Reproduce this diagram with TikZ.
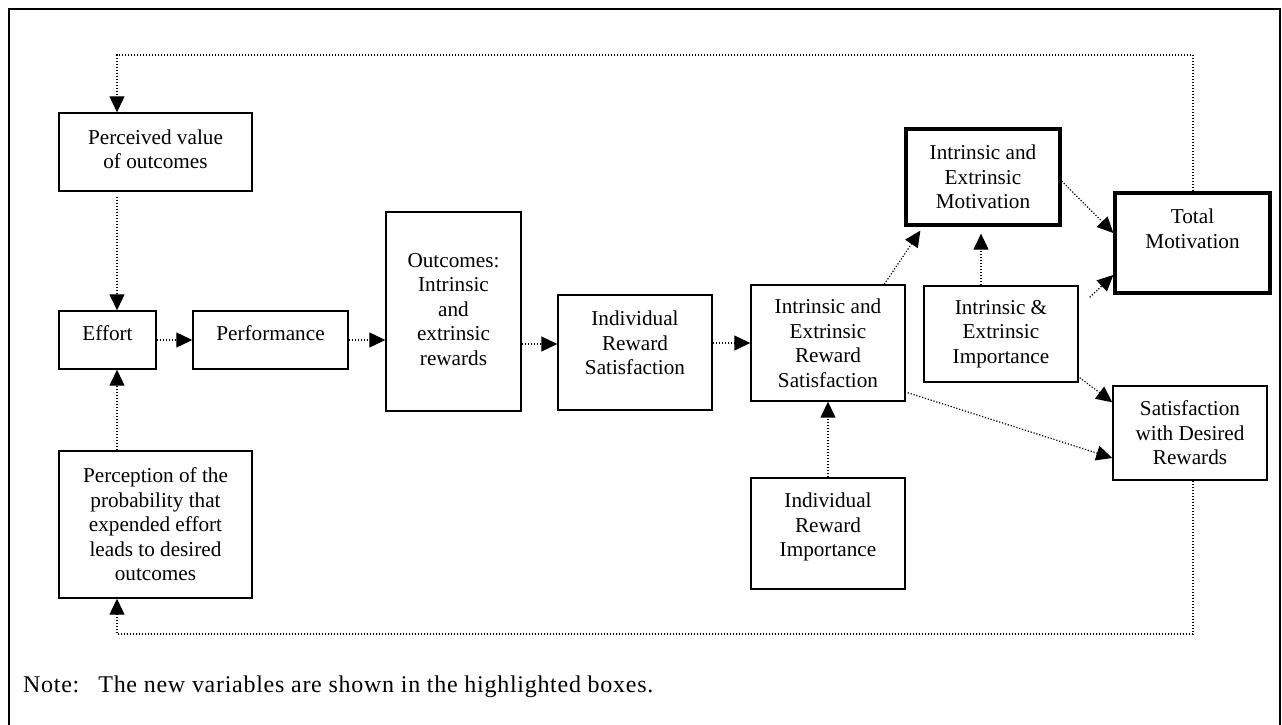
\documentclass[tikz,border=0pt]{standalone}
\usepackage{fontspec}
\setmainfont{Liberation Serif}
\usetikzlibrary{arrows.meta}
% invisible rule that adds depth below the last line of a box text
\newcommand\lowpad[1]{\rule[-#1pt]{0pt}{0pt}}

\begin{document}
\begin{tikzpicture}[x=1pt,y=-1pt,
  font=\fontsize{21.2}{24.5}\selectfont,
  box/.style={draw, line width=1.4pt, align=center, inner sep=0pt},
  hbox/.style={box, line width=3.3pt},
  flow/.style={line width=1.2pt, dash pattern=on 1.2pt off 1.8pt,
    -{Triangle[length=16pt,width=15pt]}},
]
\useasboundingbox (0,0) rectangle (1282,725);
% outer frame
\draw[line width=1.3pt] (9,726) -- (9,9) -- (1280,9) -- (1280,726);

% boxes
\node[box, minimum width=193pt, minimum height=78pt] (pv) at (155.5,152)
  {Perceived value\\of outcomes\lowpad{6}};
\node[box, minimum width=97pt, minimum height=58pt] (eff) at (107.5,340)
  {Effort\lowpad{13}};
\node[box, minimum width=155pt, minimum height=58pt] (perf) at (270.5,340)
  {Performance\lowpad{13}};
\node[box, minimum width=135pt, minimum height=199pt] (outc) at (453.5,311.5)
  {Outcomes:\\Intrinsic\\and\\extrinsic\\rewards\lowpad{5}};
\node[box, minimum width=154pt, minimum height=115pt] (irs) at (635,352.5)
  {Individual\\Reward\\Satisfaction\lowpad{19.5}};
\node[box, minimum width=154pt, minimum height=116pt] (iers) at (828,343)
  {Intrinsic and\\Extrinsic\\Reward\\Satisfaction};
\node[box, minimum width=154pt, minimum height=111pt] (iri) at (828,533.5)
  {Individual\\Reward\\Importance\lowpad{17.2}};
\node[box, minimum width=154pt, minimum height=96pt] (iei) at (1001,334)
  {Intrinsic \&\\Extrinsic\\Importance};
\node[hbox, minimum width=154pt, minimum height=96pt] (iem) at (983,177)
  {Intrinsic and\\Extrinsic\\Motivation};
\node[hbox, minimum width=155pt, minimum height=100pt] (tm) at (1192.5,243)
  {Total\\Motivation\lowpad{28.4}};
\node[box, minimum width=154pt, minimum height=94pt] (sdr) at (1190,433)
  {Satisfaction\\with Desired\\Rewards};
\node[box, minimum width=193pt, minimum height=147pt] (perc) at (155.5,524.5)
  {Perception of the\\probability that\\expended effort\\leads to desired\\outcomes};

% guide lines for the feedback loops
\coordinate (lx) at (117,0);
\coordinate (rx) at (1193,0);
\coordinate (ytop) at (0,55);
\coordinate (ybot) at (0,634);
\coordinate (yrow) at (0,344);

% feedback loops
\draw[flow] (tm.north -| rx) -- (rx |- ytop) -- (lx |- ytop) -- (pv.north -| lx);
\draw[flow] (sdr.south -| rx) -- (rx |- ybot) -- (lx |- ybot) -- (perc.south -| lx);
\draw[flow] ([yshift=-5pt]pv.south -| lx) -- (eff.north -| lx);
\draw[flow] (perc.north -| lx) -- (eff.south -| lx);

% main chain
\draw[flow] (eff.east) -- (perf.west);
\draw[flow] (perf.east) -- (perf.east -| outc.west);
\draw[flow] (outc.east |- yrow) -- (irs.west |- yrow);
\draw[flow] (irs.east |- iers.west) -- (iers.west);
\draw[flow] (iri.north) -- (iers.south);

% links to the new variables
\draw[flow] ([xshift=134pt]iers.north west) -- ([xshift=16pt,yshift=-4pt]iem.south west);
\draw[flow] ([xshift=-20pt]iei.north) -- ([xshift=-2pt,yshift=-7pt]iem.south);
\draw[flow] ([yshift=-4pt]iem.east) -- ([yshift=10pt]tm.west);
\draw[flow] ([xshift=11pt,yshift=-12pt]iei.north east) -- ([yshift=-32pt]tm.west);
\draw[flow] ([xshift=1pt,yshift=5pt]iei.south east) -- ([yshift=-17pt]sdr.north west);
\draw[flow] ([xshift=2pt,yshift=9pt]iers.south east) -- ([yshift=-25pt]sdr.west);

% note
\node[anchor=base west, inner sep=0pt] (note) at (23,692.7)
  {\fontsize{24}{28}\selectfont\addfontfeature{LetterSpace=3}Note:\hspace{19pt}The new variables are shown in the highlighted boxes.};
\end{tikzpicture}
\end{document}
